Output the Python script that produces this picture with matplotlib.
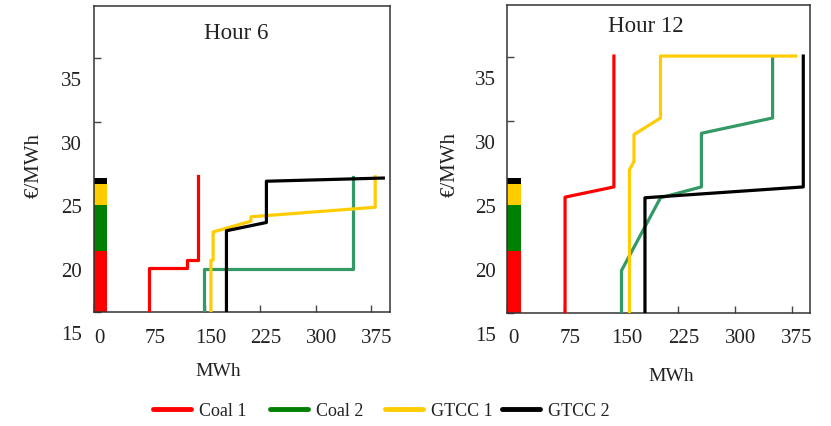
import matplotlib
matplotlib.use('Agg')
import matplotlib.pyplot as plt
from matplotlib.lines import Line2D
from matplotlib.transforms import ScaledTranslation

plt.rcParams['font.family'] = 'Liberation Serif'

xticks = [0, 75, 150, 225, 300, 375]
yticks = [15, 20, 25, 30, 35]
names = ['Coal 1', 'Coal 2', 'GTCC 1', 'GTCC 2']
line_colors = ['#FF0000', '#339966', '#FFCC00', '#000000']
legend_colors = ['#FF0000', '#008000', '#FFCC00', '#000000']

# stacked marker bar at the left of each panel
bar_heights = [4.8, 3.6, 1.7, 0.45]
bar_colors = ['#FF0000', '#008000', '#FFCC00', '#000000']

# Hour 6 offer curves
h6_coal1_x = [74, 74, 126, 126, 140, 140]
h6_coal1_y = [15, 18.45, 18.45, 19.1, 19.1, 25.7]
h6_coal2_x = [149, 149, 350, 350]
h6_coal2_y = [15, 18.4, 18.4, 25.65]
h6_gtcc1_x = [158, 158, 161, 161, 212, 212, 380, 380]
h6_gtcc1_y = [15, 19.05, 19.1, 21.3, 22.15, 22.5, 23.25, 25.65]
h6_gtcc2_x = [179, 179, 233, 233, 391]
h6_gtcc2_y = [15, 21.4, 22.05, 25.3, 25.55]

# Hour 12 offer curves
h12_coal1_x = [76, 76, 140.5, 140.5]
h12_coal1_y = [15, 24.05, 24.85, 35.1]
h12_coal2_x = [150.5, 150.5, 202, 256, 256, 350, 350]
h12_coal2_y = [15, 18.3, 24.0, 24.85, 29.05, 30.25, 34.95]
h12_gtcc1_x = [161, 161, 167, 167, 202, 202, 380.5]
h12_gtcc1_y = [15, 26.2, 26.85, 28.95, 30.25, 35.1, 35.1]
h12_gtcc2_x = [181.5, 181.5, 390.5, 390.5]
h12_gtcc2_y = [15, 24.0, 24.85, 35.1]

panels = [
    ('Hour 6', [0.1131, 0.2676, 0.3562, 0.7183], (0.48, 0.91), (0.42, -0.196), -0.17,
     [(h6_coal1_x, h6_coal1_y), (h6_coal2_x, h6_coal2_y),
      (h6_gtcc1_x, h6_gtcc1_y), (h6_gtcc2_x, h6_gtcc2_y)]),
    ('Hour 12', [0.6107, 0.266, 0.3646, 0.7223], (0.455, 0.93), (0.54, -0.206), -0.157,
     [(h12_coal1_x, h12_coal1_y), (h12_coal2_x, h12_coal2_y),
      (h12_gtcc1_x, h12_gtcc1_y), (h12_gtcc2_x, h12_gtcc2_y)]),
]

fig = plt.figure(figsize=(8.31, 4.26), dpi=100)

for title, pos, tpos, xlpos, ylx, curves in panels:
    ax = fig.add_axes(pos)
    bottom = 15
    for h, c in zip(bar_heights, bar_colors):
        ax.bar(0, h, width=17.5, bottom=bottom, align='edge', color=c, zorder=2)
        bottom += h
    for (xs, ys), c in zip(curves, line_colors):
        ax.plot(xs, ys, color=c, lw=2.3, zorder=3)
    ax.set_xlim(0, 400)
    ax.set_ylim(15, 39.1)
    ax.set_xticks(xticks)
    ax.set_yticks(yticks)
    ax.tick_params(direction='in', length=5, width=1, color='#444444',
                   labelsize=15, labelcolor='#222222')
    ax.tick_params(axis='y', pad=8.5)
    ax.tick_params(axis='x', pad=12)
    for sp in ax.spines.values():
        sp.set_color('#333333')
        sp.set_linewidth(1.1)
    # the labels sit offset from their tick marks in the original
    dy = ScaledTranslation(0, -0.21, fig.dpi_scale_trans)
    for lbl in ax.get_yticklabels():
        lbl.set_transform(lbl.get_transform() + dy)
    dx = ScaledTranslation(0.055, 0, fig.dpi_scale_trans)
    for lbl in ax.get_xticklabels():
        lbl.set_transform(lbl.get_transform() + dx)
    ax.text(tpos[0], tpos[1], title, transform=ax.transAxes, ha='center',
            va='center', fontsize=16.5, color='#222222')
    ax.text(xlpos[0], xlpos[1], 'MWh', transform=ax.transAxes, ha='center',
            va='center', fontsize=14, color='#222222')
    ax.set_ylabel('€/MWh', fontsize=15, color='#222222')
    ax.yaxis.set_label_coords(ylx, 0.48)

# legend: four fixed slots along the bottom
leg_x = [153, 270, 385, 502]
for x, name, c in zip(leg_x, names, legend_colors):
    h = Line2D([], [], color=c, lw=3.5, solid_capstyle='round')
    fig.legend([h], [name], loc='center left', bbox_to_anchor=(x / 831, 1 - 411 / 426),
               frameon=False, fontsize=13, handlelength=2.1, handletextpad=0.45,
               borderpad=0, borderaxespad=0, labelcolor='#222222')

fig.savefig('out.png', dpi=100)
